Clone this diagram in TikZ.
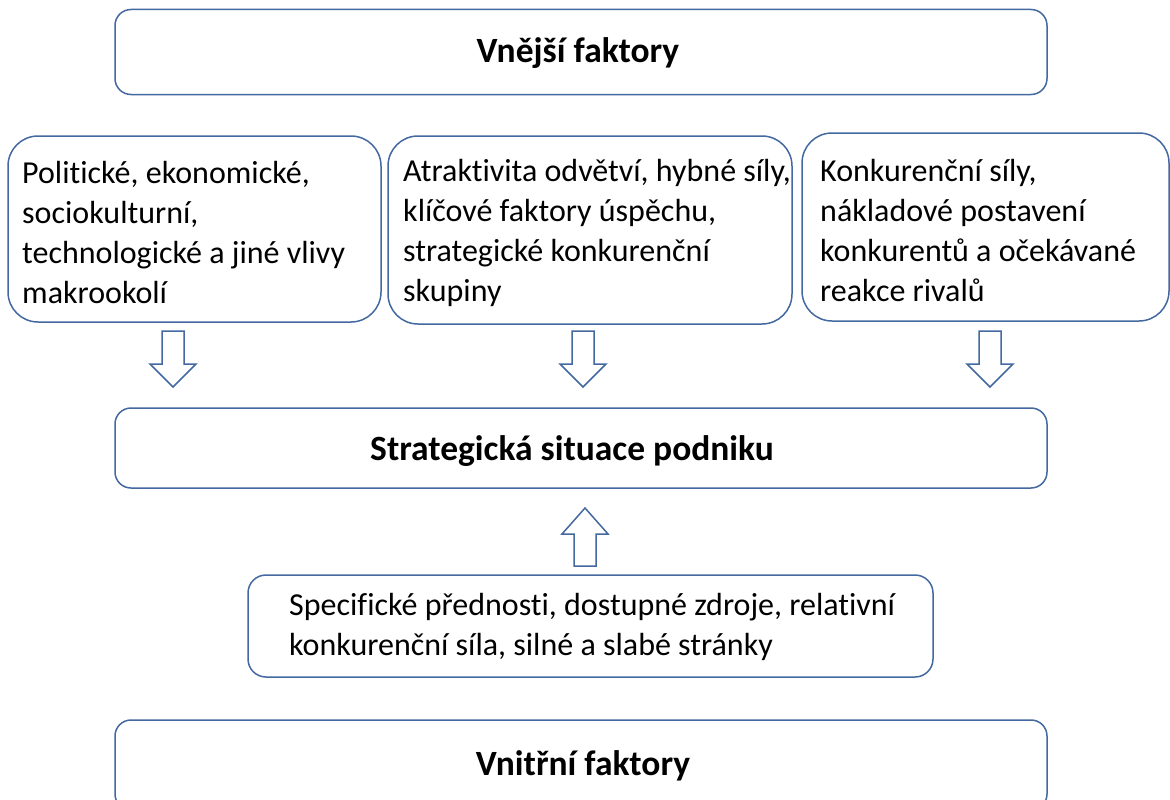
\documentclass[tikz,border=0pt]{standalone}
\usepackage{fontspec}
\setmainfont{Carlito}[RawFeature={-liga;-clig;-calt;-dlig}]
\definecolor{bl}{RGB}{68,104,160}
\begin{document}
\begin{tikzpicture}[x=1pt,y=-1pt,
  frame/.style={draw=bl, line width=1.5pt, fill=white},
  bigbox/.style={frame, rounded corners=16pt, minimum width=932pt, minimum height=85pt},
  ttl/.style={font=\fontsize{35.5}{40}\selectfont\bfseries, inner sep=0pt},
  body/.style={anchor=west, align=left, font=\fontsize{32}{40}\selectfont, inner sep=0pt},
  sidebox/.style={frame, rounded corners=30pt, inner sep=0pt},
  blockarrow/.style={draw=bl, line width=1.5pt, fill=white, line join=miter}]
\useasboundingbox (0,0) rectangle (1170,800);
\node[bigbox] (ext) at (581,52) {};
\node[ttl] (extt) at (578,53) {Vnější faktory};
\node[sidebox, minimum width=373pt, minimum height=186pt] (b1) at (194.5,229) {};
\node[sidebox, minimum width=404pt, minimum height=188pt] (b2) at (590,230) {};
\node[sidebox, minimum width=367pt, minimum height=188pt] (b3) at (985.5,227) {};
\node[body] (t1) at (22,233) {Politické, ekonomické,\\sociokulturní,\\technologické a jiné vlivy\\makrookolí};
\node[body] (t2) at (403,233) {Atraktivita odvětví, hybné síly,\\klíčové faktory úspěchu,\\strategické konkurenční\\skupiny};
\node[body] (t3) at (820,231) {Konkurenční síly,\\nákladové postavení\\konkurentů a očekávané\\reakce rivalů};
\node[bigbox, minimum height=80pt] (mid) at (581,448) {};
\node[ttl] (midt) at (572,451) {Strategická situace podniku};
\node[frame, rounded corners=18pt, minimum width=685pt, minimum height=102pt, inner sep=0pt] (int) at (590.5,626) {};
\node[body] (t4) at (289,627) {Specifické přednosti, dostupné zdroje, relativní\\konkurenční síla, silné a slabé stránky};
\node[bigbox, minimum height=90pt] (inn) at (581,765) {};
\node[ttl] (innt) at (583,766) {Vnitřní faktory};
% block arrows
\foreach \cx in {173,583,990}{
  \draw[blockarrow] (\cx-11,331) -- (\cx+11,331) -- (\cx+11,364) -- (\cx+23,364) -- (\cx,387) -- (\cx-23,364) -- (\cx-11,364) -- cycle;
}
\draw[blockarrow] (585-11,566) -- (585+11,566) -- (585+11,534) -- (585+23,534) -- (585,508) -- (585-23,534) -- (585-11,534) -- cycle;
\end{tikzpicture}
\end{document}
